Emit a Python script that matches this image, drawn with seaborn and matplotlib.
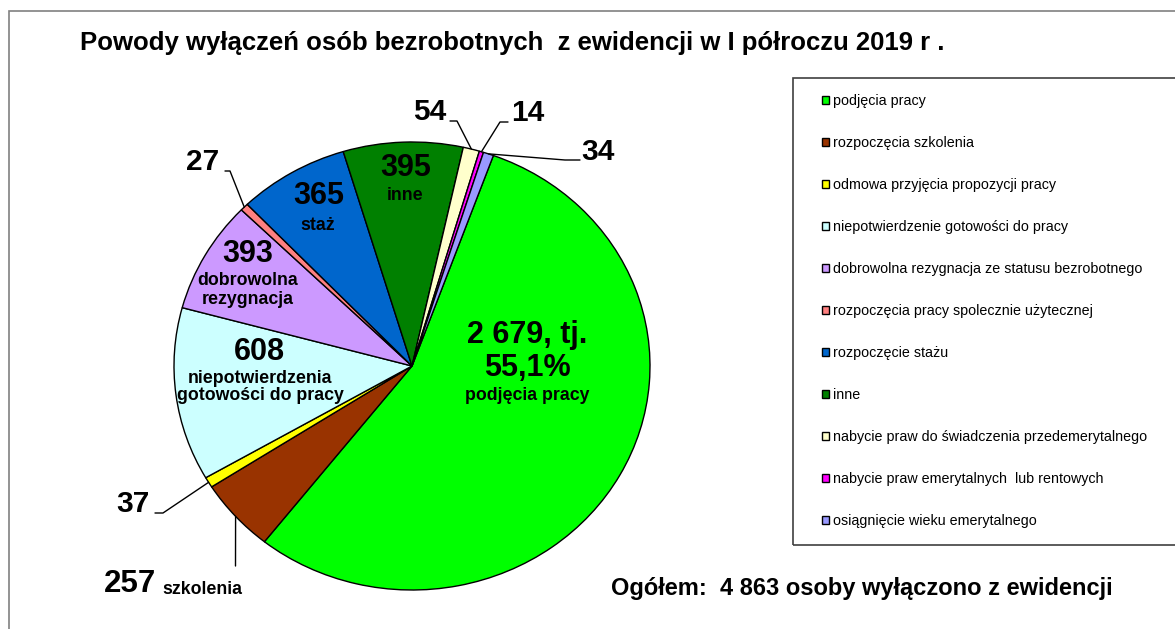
import numpy as np
import seaborn as sns
import matplotlib.pyplot as plt
from matplotlib.lines import Line2D
from matplotlib.patches import Rectangle

# data
categories = ["podjęcia pracy", "rozpoczęcia szkolenia", "odmowa przyjęcia propozycji pracy",
              "niepotwierdzenie gotowości do pracy", "dobrowolna rezygnacja ze statusu bezrobotnego",
              "rozpoczęcia pracy spolecznie użytecznej", "rozpoczęcie stażu", "inne",
              "nabycie praw do świadczenia przedemerytalnego", "nabycie praw emerytalnych  lub rentowych",
              "osiągnięcie wieku emerytalnego"]
counts = [2679, 257, 37, 608, 393, 27, 365, 395, 54, 14, 34]
colors = ["#00FF00", "#993300", "#FFFF00", "#CCFFFF", "#CC99FF", "#FF8080",
          "#0066CC", "#008000", "#FFFFCC", "#FF00FF", "#9999FF"]
value_labels = ["2 679, tj.", "257", "37", "608", "393", "27", "365", "395", "54", "14", "34"]
sub_labels = ["podjęcia pracy", "szkolenia", "", "niepotwierdzenia\ngotowości do pracy",
              "dobrowolna\nrezygnacja", "", "staż", "inne", "", "", ""]
total_text = "Ogółem:  4 863 osoby wyłączono z ewidencji"
title = "Powody wyłączeń osób bezrobotnych  z ewidencji w I półroczu 2019 r ."

sns.set_style("white")
plt.rcParams['font.family'] = ['Liberation Sans', 'DejaVu Sans']
plt.rcParams['text.color'] = 'black'

W, H = 1175, 629
fig = plt.figure(figsize=(W / 100, H / 100), dpi=100, facecolor='white')


def P(x, y):
    # reference pixel -> figure fraction
    return x / W, 1 - y / H


# pie axes (slightly elliptical, like the reference)
cx, cy, rx, ry = 412, 366, 238, 224
ax = fig.add_axes([(cx - rx) / W, (H - cy - ry) / H, 2 * rx / W, 2 * ry / H])
wedges, _ = ax.pie(counts, colors=colors, startangle=70, counterclock=False,
                   wedgeprops=dict(edgecolor='black', linewidth=1))
ax.set_aspect('auto')
ax.set_xlim(-1, 1)
ax.set_ylim(-1, 1)
ax.axis('off')

big = dict(fontsize=22, fontweight='bold', ha='center', va='center')
small = dict(fontsize=12.8, fontweight='bold', ha='center', va='center')

# labels inside slices
fig.text(*P(527, 335), value_labels[0], **big)
fig.text(*P(527, 368), "{:.1f}%".format(100 * counts[0] / sum(counts)).replace('.', ','), **big)
fig.text(*P(527, 395), sub_labels[0], **small)
fig.text(*P(259, 352), value_labels[3], **big)
fig.text(*P(260, 387), sub_labels[3], linespacing=1.05, **small)
fig.text(*P(248, 254), value_labels[4], **big)
fig.text(*P(248, 290), sub_labels[4], linespacing=1.15, **small)
fig.text(*P(319, 196), value_labels[6], **big)
fig.text(*P(318, 225), sub_labels[6], **small)
fig.text(*P(406, 168), value_labels[7], **big)
fig.text(*P(405, 196), sub_labels[7], **small)

# outside labels
fig.text(*P(130, 584), value_labels[1], fontsize=22.5, fontweight='bold', ha='center', va='center')
fig.text(*P(162, 589), sub_labels[1], fontsize=12.8, fontweight='bold', ha='left', va='center')
for i, (tx, ty) in zip([2, 5, 8, 9, 10], [(133, 504), (203, 162), (430, 112), (528, 113), (598, 152)]):
    fig.text(*P(tx, ty), value_labels[i], fontsize=21.5, fontweight='bold', ha='center', va='center')

# leader lines: from slice edge (mid angle) through corner to text end
leaders = {1: [(235.5, 566)], 2: [(163, 513), (155, 513)], 5: [(230, 171), (225, 171)],
           8: [(457, 121), (450, 121)], 9: [(500, 122), (508, 122)], 10: [(565, 160), (580, 160)]}
inv = fig.transFigure.inverted()
for i, pts in leaders.items():
    w = wedges[i]
    mid = np.deg2rad((w.theta1 + w.theta2) / 2)
    start = inv.transform(ax.transData.transform((np.cos(mid), np.sin(mid))))
    xs = [start[0]] + [P(*p)[0] for p in pts]
    ys = [start[1]] + [P(*p)[1] for p in pts]
    fig.add_artist(Line2D(xs, ys, color='black', linewidth=1))

# legend
fig.add_artist(Rectangle(P(793, 545), (1200 - 793) / W, (545 - 78) / H,
                         transform=fig.transFigure, fill=False, edgecolor='#404040', linewidth=1.2))
fig.legend(wedges, categories, loc='upper left', bbox_to_anchor=P(822, 94), frameon=False,
           fontsize=10.3, handlelength=0.5, handleheight=0.5, handletextpad=0.25,
           labelspacing=1.96, borderpad=0, borderaxespad=0)

# chart border (top and left visible)
fig.add_artist(Rectangle(P(9, 640), 1200 / W, (640 - 11) / H, transform=fig.transFigure,
                         fill=False, edgecolor='#808080', linewidth=1.2))

fig.text(*P(80, 43), title, fontsize=18.5, fontweight='bold', ha='left', va='center')
fig.text(*P(611, 588), total_text, fontsize=17, fontweight='bold', ha='left', va='center')

fig.savefig('out.png', dpi=100, facecolor='white')
